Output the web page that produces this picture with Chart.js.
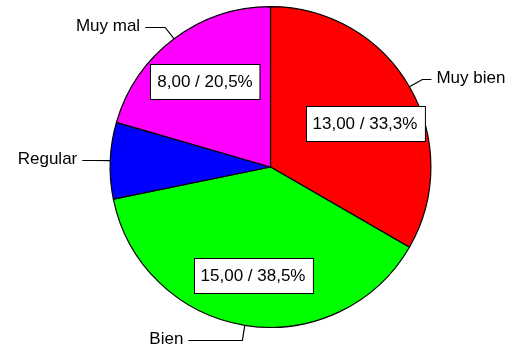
<!DOCTYPE html>
<html>
<head>
<meta charset="utf-8">
<script src="https://cdn.jsdelivr.net/npm/chart.js@4"></script>
<style>
html, body { margin: 0; padding: 0; background: #fff; }
#wrap { width: 510px; height: 348px; }
</style>
</head>
<body>
<div id="wrap"><canvas id="pie"></canvas></div>
<script>
var categories = ['Muy bien', 'Bien', 'Regular', 'Muy mal'];
var counts = [13, 15, 3, 8];
var sliceColors = ['#ff0000', '#00ff00', '#0000ff', '#ff00ff'];
// which slices get a value box inside
var boxed = [true, true, false, true];
// length of the horizontal part of each leader line
var leaderRun = [9, 54, 13, 20];
// vertical nudge of the value boxes
var boxShift = [11, 1, 0, 2];
var labelFont = '17px "Liberation Sans", Arial, sans-serif';

function fmt(v, total) {
  return v.toFixed(2).replace('.', ',') + ' / ' +
    (v / total * 100).toFixed(1).replace('.', ',') + '%';
}

var pieLabels = {
  id: 'pieLabels',
  afterDatasetsDraw: function(chart) {
    var ctx = chart.ctx;
    var meta = chart.getDatasetMeta(0);
    var total = counts.reduce(function(a, b) { return a + b; }, 0);
    ctx.save();
    ctx.font = labelFont;
    ctx.textBaseline = 'middle';
    ctx.fillStyle = '#000';
    ctx.strokeStyle = '#000';
    ctx.lineWidth = 1.2;
    meta.data.forEach(function(arc, i) {
      var p = arc.getProps(['x', 'y', 'startAngle', 'endAngle', 'outerRadius'], true);
      var mid = (p.startAngle + p.endAngle) / 2;
      var c = Math.cos(mid), s = Math.sin(mid);

      // leader line: radial stub then horizontal run
      var x0 = p.x + c * p.outerRadius, y0 = p.y + s * p.outerRadius;
      var x1 = p.x + c * (p.outerRadius + 15), y1 = Math.round(p.y + s * (p.outerRadius + 15)) + 0.5;
      var dir = c >= 0 ? 1 : -1;
      var x2 = x1 + dir * leaderRun[i];
      ctx.beginPath();
      ctx.moveTo(x0, y0);
      ctx.lineTo(x1, y1);
      ctx.lineTo(x2, y1);
      ctx.stroke();
      ctx.textAlign = dir > 0 ? 'left' : 'right';
      ctx.fillText(categories[i], x2 + dir * 5, y1 - 1);

      // value box
      if (boxed[i]) {
        var txt = fmt(counts[i], total);
        var r = p.outerRadius * 0.68;
        var cx = p.x + c * r, cy = p.y + s * r + boxShift[i];
        var w = ctx.measureText(txt).width + 14, h = 35;
        var bx = Math.round(cx - w / 2) + 0.5, by = Math.round(cy - h / 2) + 0.5;
        ctx.fillStyle = '#fff';
        ctx.fillRect(bx, by, w, h);
        ctx.lineWidth = 1;
        ctx.strokeRect(bx, by, w, h);
        ctx.fillStyle = '#000';
        ctx.textAlign = 'center';
        ctx.fillText(txt, cx, cy + 1);
        ctx.lineWidth = 1.2;
      }
    });
    ctx.restore();
  }
};

new Chart(document.getElementById('pie'), {
  type: 'pie',
  data: {
    labels: categories,
    datasets: [{
      data: counts,
      backgroundColor: sliceColors,
      borderColor: '#000',
      borderWidth: 1.2
    }]
  },
  options: {
    responsive: true,
    maintainAspectRatio: false,
    animation: false,
    devicePixelRatio: 1,
    layout: {
      padding: { left: 109, right: 78, top: 6, bottom: 20 }
    },
    plugins: {
      legend: { display: false },
      tooltip: { enabled: false }
    }
  },
  plugins: [pieLabels]
});
</script>
</body>
</html>
